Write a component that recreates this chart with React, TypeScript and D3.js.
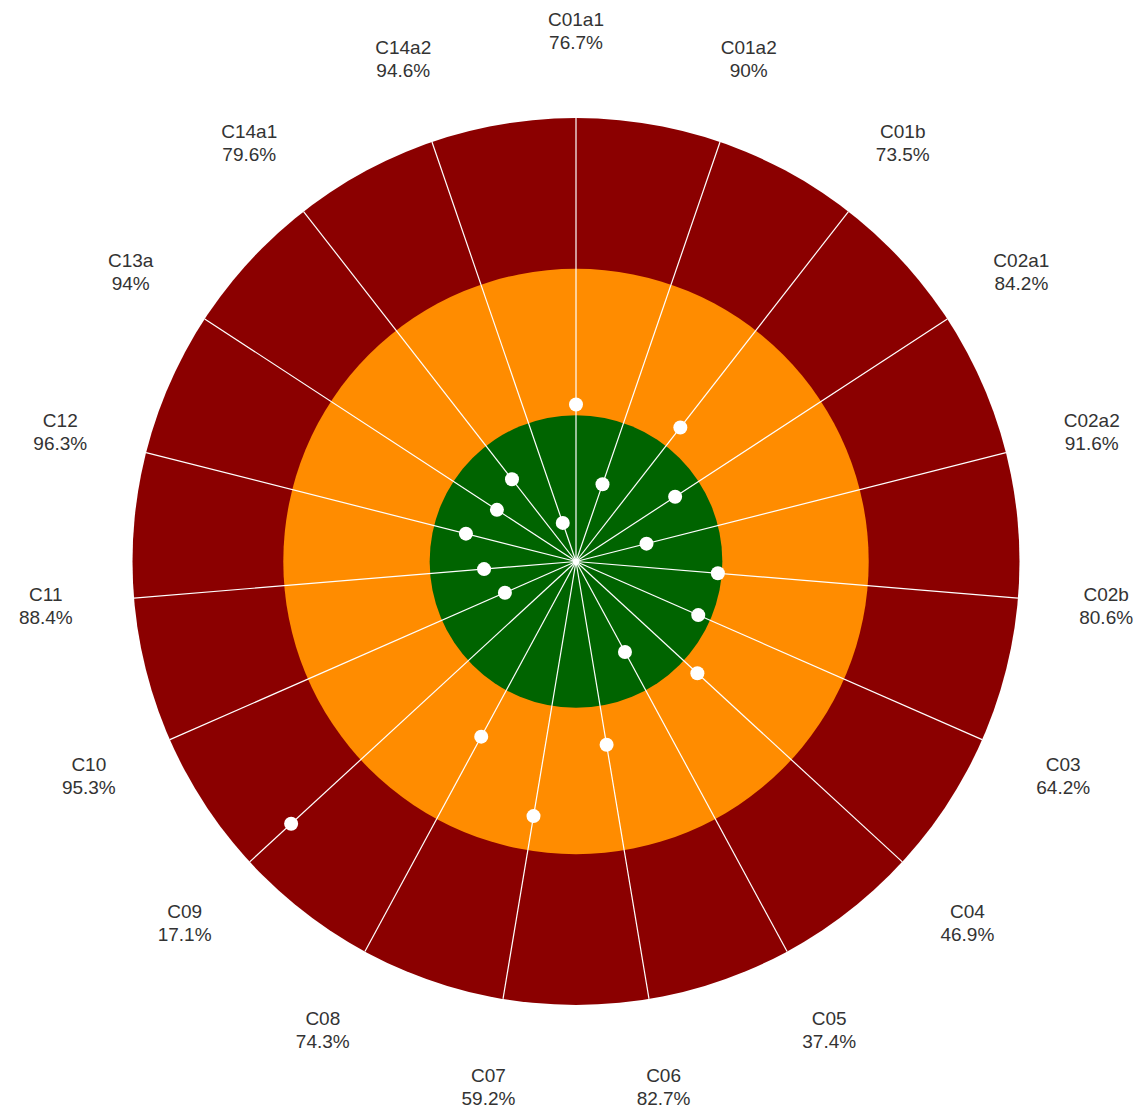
import React from "react";
import * as d3 from "d3";

const categories = ["C01a1","C01a2","C01b","C02a1","C02a2","C02b","C03","C04","C05","C06","C07","C08","C09","C10","C11","C12","C13a","C14a1","C14a2"];
const percents = ["76.7%","90%","73.5%","84.2%","91.6%","80.6%","64.2%","46.9%","37.4%","82.7%","59.2%","74.3%","17.1%","95.3%","88.4%","96.3%","94%","79.6%","94.6%"];
const dotValues = [35.4,18.4,38.3,26.7,16.4,32.1,30.1,37.2,23.2,41.9,58.2,44.9,87.3,17.5,20.8,25.6,21.3,23.5,9.2];
const ringValues = [100, 66, 33];
const ringColors = ["#8b0000", "#ff8c00", "#006400"];

const W = 1146, H = 1120;
const cx = 576, cy = 561.5;
const R = 443.5;
const labelR = 532;

export default function App() {
  const r = d3.scaleLinear().domain([0, 100]).range([0, R]);
  const angle = d3.scaleBand<string>().domain(categories).range([0, 2 * Math.PI]).paddingInner(0).paddingOuter(0);
  const step = angle.step();
  const ang = (c: string) => (angle(c) as number);
  const px = (a: number, rr: number) => rr * Math.sin(a);
  const py = (a: number, rr: number) => -rr * Math.cos(a);

  return (
    <svg width={W} height={H} style={{ position: "absolute", left: 0, top: 0, background: "#fff" }}>
      <g transform={`translate(${cx},${cy})`}>
        {ringValues.map((v, i) => (
          <circle key={"ring" + i} r={r(v)} fill={ringColors[i]} />
        ))}
        {categories.map((c) => {
          const a = ang(c);
          return (
            <line key={"sp" + c} x1={0} y1={0} x2={px(a, R)} y2={py(a, R)} stroke="#fff" strokeWidth={1.2} />
          );
        })}
        <circle r={3} fill="#fff" />
        {categories.map((c, i) => {
          const a = ang(c);
          const rr = r(dotValues[i]);
          return <circle key={"d" + c} cx={px(a, rr)} cy={py(a, rr)} r={7} fill="#fff" />;
        })}
        {categories.map((c, i) => {
          const a = ang(c);
          const x = px(a, labelR);
          const y = py(a, labelR);
          return (
            <text key={"t" + c} x={x} y={y} textAnchor="middle" fontFamily="Arial, 'Liberation Sans', sans-serif" fontSize={19} fill="#333">
              <tspan x={x} dy={-4}>{c}</tspan>
              <tspan x={x} dy={23}>{percents[i]}</tspan>
            </text>
          );
        })}
      </g>
      {void step}
    </svg>
  );
}
